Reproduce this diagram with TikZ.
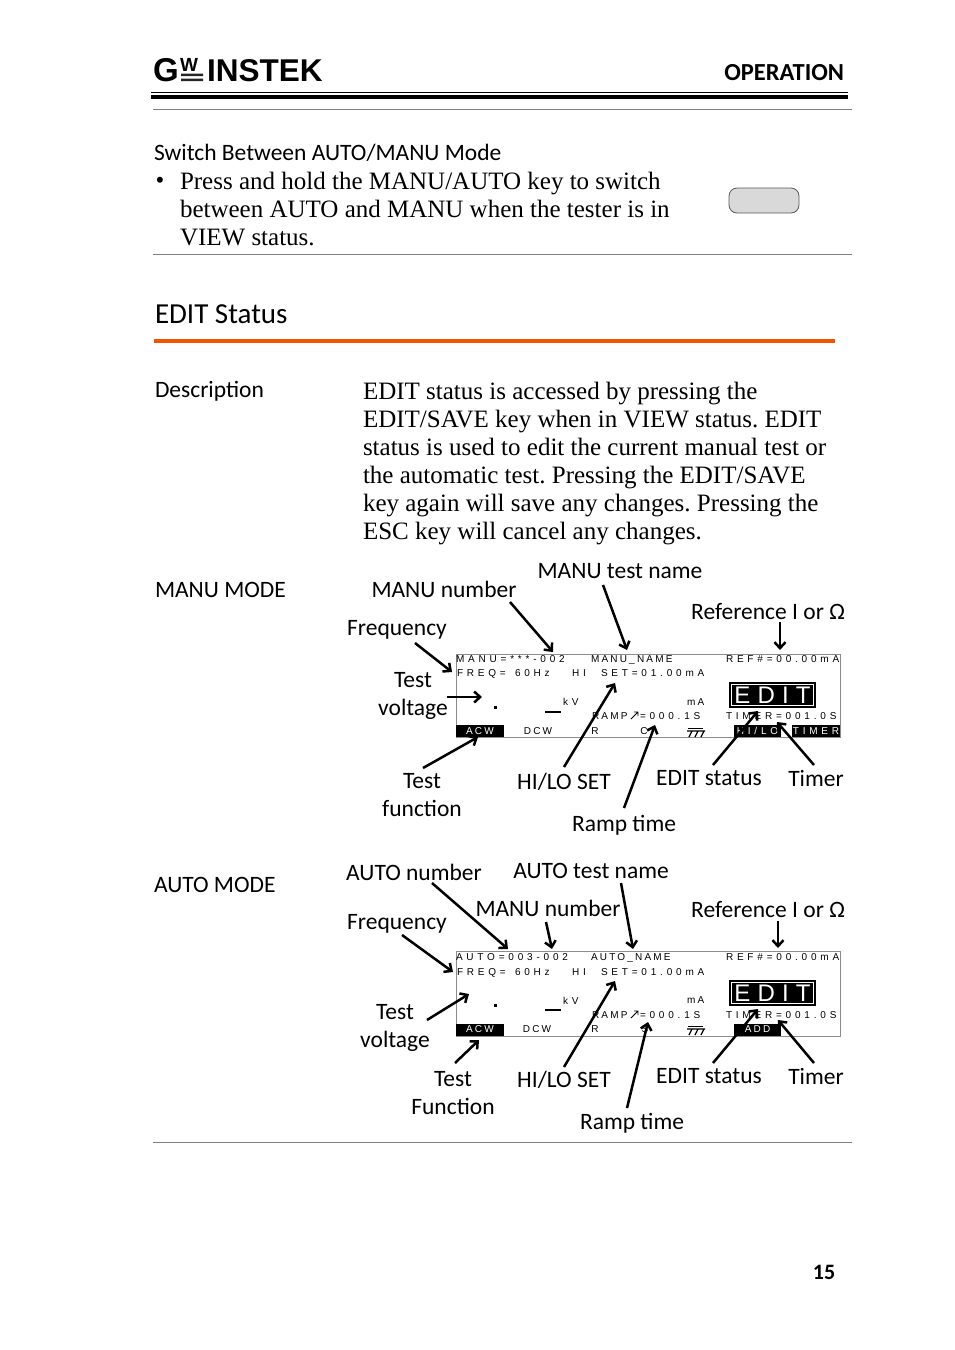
\documentclass[tikz,border=0pt]{standalone}
\usepackage{fontspec}
\setmainfont{Liberation Serif}
\newfontfamily\labelfont{Carlito}
\newfontfamily\lcdfont[LetterSpace=38]{Liberation Sans}
\newfontfamily\lcdtight[LetterSpace=22]{Liberation Sans}
\newfontfamily\editfont[LetterSpace=30]{Liberation Sans}
\newfontfamily\logofont{Liberation Sans}
\usetikzlibrary{arrows.meta}

\begin{document}
\begin{tikzpicture}[x=1pt, y=-1pt,
  every node/.style={inner sep=0pt, outer sep=0pt},
  sidelabel/.style={font=\labelfont\fontsize{23.5}{28}\selectfont, align=center},
  bodytext/.style={font=\frenchspacing\fontsize{25}{28.1}\selectfont, align=left, anchor=north west},
  lcdtext/.style={font=\lcdfont\fontsize{10}{12}\selectfont, anchor=base west},
  lcdname/.style={font=\lcdtight\fontsize{10}{12}\selectfont, anchor=base west},
  lcdpanel/.style={draw=black!45, line width=0.8pt, minimum width=384pt, fill=white},
  softkey/.style={fill=black, text=white, font=\lcdtight\fontsize{10}{12}\selectfont,
                  minimum width=48pt, minimum height=12pt},
  softwide/.style={softkey, font=\lcdfont\fontsize{10}{12}\selectfont},
  softtext/.style={font=\lcdtight\fontsize{10}{12}\selectfont},
  editbox/.style={fill=black, text=white, minimum width=87pt, minimum height=26pt,
                  font=\editfont\fontsize{24}{26}\selectfont},
  greyrule/.style={draw=black!50, line width=0.8pt},
  callout/.style={line width=2.5pt, -{Straight Barb[length=6pt,width=11pt,line width=2.5pt]}}]

  \useasboundingbox (0,0) rectangle (954,1350);
  \fill[white] (0,0) rectangle (954,1350);

  % page head
  \node[font=\logofont\bfseries\fontsize{33}{33}\selectfont, anchor=base west] (logoG) at (153,81) {G};
  \node[font=\logofont\bfseries\fontsize{19}{19}\selectfont, anchor=base west] (logoW) at (180,71) {W};
  \node[font=\logofont\bfseries\fontsize{31.5}{33}\selectfont, anchor=base west] (logoName) at (207,81) {INSTEK};
  \fill[black!85] (181,73.5) rectangle (203,76) (181,78.5) rectangle (203,81);
  \node[font=\labelfont\bfseries\fontsize{24.5}{26}\selectfont, anchor=east] (headOp) at (844,73) {OPERATION};
  \draw[line width=1pt] (151,92.5) -- (848,92.5);
  \draw[line width=3.5pt] (151,96.8) -- (848,96.8);
  \draw[greyrule] (153,109.5) -- (852,109.5);

  % switch note
  \node[sidelabel, anchor=west] (headSwitch) at (154,152.5) {Switch Between AUTO/MANU Mode};
  \node[font=\fontsize{25}{28}\selectfont] (noteDot) at (160,183) {\textbullet};
  \node[bodytext] (noteText) at (180,172)
    {Press and hold the MANU/AUTO key to switch\\
     between AUTO and MANU when the tester is in\\
     VIEW status.};
  \node[draw=black!65, fill=black!15, rounded corners=8pt, line width=0.8pt,
        minimum width=70pt, minimum height=25pt] (keyCap) at (764,200.5) {};
  \draw[greyrule] (153,254.5) -- (852,254.5);

  % section head
  \node[sidelabel, anchor=west, font=\labelfont\fontsize{29}{30}\selectfont] (headEdit) at (155,314) {EDIT Status};
  \fill[orange!70!red!95!black] (154,338.5) rectangle (835,343);

  % description
  \node[sidelabel, anchor=west] (lblDesc) at (155,391.5) {Description};
  \node[bodytext] (descText) at (363,382)
    {EDIT status is accessed by pressing the\\
     EDIT/SAVE key when in VIEW status. EDIT\\
     status is used to edit the current manual test or\\
     the automatic test. Pressing the EDIT/SAVE\\
     key again will save any changes. Pressing the\\
     ESC key will cancel any changes.};

  % MANU panel
  \node[sidelabel, anchor=west] (lblManu) at (155,589.5) {MANU MODE};
  \node[lcdpanel, minimum height=83pt] (panelM) at (648,695.5) {};
  \node[lcdtext] (m1a) at (456,662) {MANU=***-002};
  \node[lcdname] (m1b) at (591,662) {MANU\_NAME};
  \node[lcdtext] (m1c) at (726,662) {REF\#=00.00mA};
  \node[lcdtext] (m2a) at (457,676) {FREQ=};
  \node[lcdtext] (m2b) at (515,676) {60Hz};
  \node[lcdtext] (m2c) at (572,676) {HI};
  \node[lcdtext] (m2d) at (601,676) {SET=01.00mA};
  \node[lcdtext] (m3a) at (563,705) {kV};
  \node[lcdname] (m3b) at (687,705) {mA};
  \node[lcdname] (m4a) at (592,719) {RAMP};
  \node[lcdtext] (m4b) at (640,719) {=000.1S};
  \node[lcdtext] (m4c) at (726,719) {TIMER=001.0S};
  \draw[line width=0.8pt] (631,719) -- (638,712) (634,712) -- (638,712) -- (638,716);
  \fill (493.5,705.5) rectangle (496.5,708.5);
  \draw[line width=2.5pt] (545,712) -- (561,712);
  \node[editbox] (editM) at (772.5,695) {EDIT};
  \draw[white, line width=1pt] (731.5,684.5) rectangle (813.5,705.5);
  \node[softkey] (keyAcwM) at (480,731) {ACW};
  \node[softtext] (keyDcwM) at (538,731) {DCW};
  \node[softtext] (keyRM) at (595,731) {R};
  \node[softtext] (keyCM) at (644,731) {C};
  \node[softwide, minimum width=47pt] (keyHiM) at (757.5,731) {HI/LO};
  \node[softwide] (keyTimerM) at (816,731) {TIMER};
  \draw[line width=0.8pt] (688,728) -- (703,728);
  \draw[line width=1.2pt] (687,731) -- (705,731) (692,731) -- (689,737) (698,731) -- (695,737) (704,731) -- (701,737);

  \node[sidelabel] (lblNumM) at (444,589.5) {MANU number};
  \node[sidelabel] (lblNameM) at (620,571.5) {MANU test name};
  \node[sidelabel] (lblRefM) at (768,611.5) {Reference I or Ω};
  \node[sidelabel] (lblFreqM) at (397,630) {Frequency};
  \node[sidelabel] (lblVoltM) at (413,696) {Test\\voltage};
  \node[sidelabel] (lblFuncM) at (422,795) {Test\\function};
  \node[sidelabel] (lblHiM) at (564,781.5) {HI/LO SET};
  \node[sidelabel] (lblRampM) at (624,825) {Ramp time};
  \node[sidelabel] (lblEditM) at (709,778.5) {EDIT status};
  \node[sidelabel] (lblTimerM) at (816,778.5) {Timer};

  \coordinate (tipNumM) at (553,652);
  \coordinate (tipNameM) at (627,650);
  \coordinate (tipRefM) at (780,650);
  \coordinate (tipFreqM) at (452,672);
  \coordinate (tipVoltM) at (482,697);
  \coordinate (tipFuncM) at (478,737);
  \coordinate (tipHiM) at (615,683);
  \coordinate (tipRampM) at (655,725);
  \coordinate (tipEditM) at (758,711);
  \coordinate (tipTimerM) at (777,722);
  \draw[callout] ([shift={(66,12.5)}]lblNumM.center) -- (tipNumM);
  \draw[callout] ([shift={(-17,13.5)}]lblNameM.center) -- (tipNameM);
  \draw[callout] ([shift={(12,10.5)}]lblRefM.center) -- (tipRefM);
  \draw[callout] ([shift={(18,13)}]lblFreqM.center) -- (tipFreqM);
  \draw[callout] ([shift={(34,1)}]lblVoltM.center) -- (tipVoltM);
  \draw[callout] ([shift={(1,-27)}]lblFuncM.center) -- (tipFuncM);
  \draw[callout] ([shift={(0,-14.5)}]lblHiM.center) -- (tipHiM);
  \draw[callout] ([shift={(0,-17)}]lblRampM.center) -- (tipRampM);
  \draw[callout] ([shift={(4,-13.5)}]lblEditM.center) -- (tipEditM);
  \draw[callout] ([shift={(-2,-13.5)}]lblTimerM.center) -- (tipTimerM);

  % AUTO panel
  \node[sidelabel, anchor=west] (lblAuto) at (154,884.5) {AUTO MODE};
  \node[lcdpanel, minimum height=85pt] (panelA) at (648,993.5) {};
  \node[lcdtext] (a1a) at (456,960) {AUTO=003-002};
  \node[lcdname] (a1b) at (591,960) {AUTO\_NAME};
  \node[lcdtext] (a1c) at (726,960) {REF\#=00.00mA};
  \node[lcdtext] (a2a) at (457,975) {FREQ=};
  \node[lcdtext] (a2b) at (515,975) {60Hz};
  \node[lcdtext] (a2c) at (572,975) {HI};
  \node[lcdtext] (a2d) at (601,975) {SET=01.00mA};
  \node[lcdtext] (a3a) at (563,1004) {kV};
  \node[lcdname] (a3b) at (687,1003) {mA};
  \node[lcdname] (a4a) at (592,1018) {RAMP};
  \node[lcdtext] (a4b) at (640,1018) {=000.1S};
  \node[lcdtext] (a4c) at (726,1018) {TIMER=001.0S};
  \draw[line width=0.8pt] (631,1018) -- (638,1011) (634,1011) -- (638,1011) -- (638,1015);
  \fill (493.5,1003.5) rectangle (496.5,1006.5);
  \draw[line width=2.5pt] (545,1010) -- (561,1010);
  \node[editbox] (editA) at (772.5,993) {EDIT};
  \draw[white, line width=1pt] (731.5,982.5) rectangle (813.5,1003.5);
  \node[softkey] (keyAcwA) at (480,1029.5) {ACW};
  \node[softtext] (keyDcwA) at (537,1029) {DCW};
  \node[softtext] (keyRA) at (595,1029) {R};
  \node[softtext] (keySA) at (645,1029) {S};
  \node[softkey, minimum width=47pt] (keyAddA) at (757.5,1029.5) {ADD};
  \draw[line width=0.8pt] (688,1026) -- (703,1026);
  \draw[line width=1.2pt] (687,1029) -- (705,1029) (692,1029) -- (689,1035) (698,1029) -- (695,1035) (704,1029) -- (701,1035);

  \node[sidelabel] (lblNumA) at (414,872.5) {AUTO number};
  \node[sidelabel] (lblNameA) at (591,870.5) {AUTO test name};
  \node[sidelabel] (lblSubA) at (548,908.5) {MANU number};
  \node[sidelabel] (lblRefA) at (768,909.5) {Reference I or Ω};
  \node[sidelabel] (lblFreqA) at (397,924) {Frequency};
  \node[sidelabel] (lblVoltA) at (395,1028) {Test\\voltage};
  \node[sidelabel] (lblFuncA) at (453,1093) {Test\\Function};
  \node[sidelabel] (lblHiA) at (564,1079.5) {HI/LO SET};
  \node[sidelabel] (lblRampA) at (632,1123) {Ramp time};
  \node[sidelabel] (lblEditA) at (709,1076) {EDIT status};
  \node[sidelabel] (lblTimerA) at (816,1076) {Timer};

  \coordinate (tipNumA) at (508,949);
  \coordinate (tipNameA) at (633,949);
  \coordinate (tipSubA) at (552,949);
  \coordinate (tipRefA) at (778,948);
  \coordinate (tipFreqA) at (453,972);
  \coordinate (tipVoltA) at (469,994);
  \coordinate (tipFuncA) at (479,1040);
  \coordinate (tipHiA) at (615,981);
  \coordinate (tipRampA) at (648,1022);
  \coordinate (tipEditA) at (758,1009);
  \coordinate (tipTimerA) at (778,1020);
  \draw[callout] ([shift={(18,10.5)}]lblNumA.center) -- (tipNumA);
  \draw[callout] ([shift={(30,12.5)}]lblNameA.center) -- (tipNameA);
  \draw[callout] ([shift={(-2,13.5)}]lblSubA.center) -- (tipSubA);
  \draw[callout] ([shift={(10,11.5)}]lblRefA.center) -- (tipRefA);
  \draw[callout] ([shift={(5,11)}]lblFreqA.center) -- (tipFreqA);
  \draw[callout] ([shift={(32,-8)}]lblVoltA.center) -- (tipVoltA);
  \draw[callout] ([shift={(2,-30)}]lblFuncA.center) -- (tipFuncA);
  \draw[callout] ([shift={(0,-12.5)}]lblHiA.center) -- (tipHiA);
  \draw[callout] ([shift={(-5,-15)}]lblRampA.center) -- (tipRampA);
  \draw[callout] ([shift={(4,-13)}]lblEditA.center) -- (tipEditA);
  \draw[callout] ([shift={(-2,-13)}]lblTimerA.center) -- (tipTimerA);

  \draw[greyrule] (153,1142.5) -- (852,1142.5);
  \node[font=\labelfont\bfseries\fontsize{22}{24}\selectfont] (pageNo) at (824,1272) {15};
\end{tikzpicture}
\end{document}
